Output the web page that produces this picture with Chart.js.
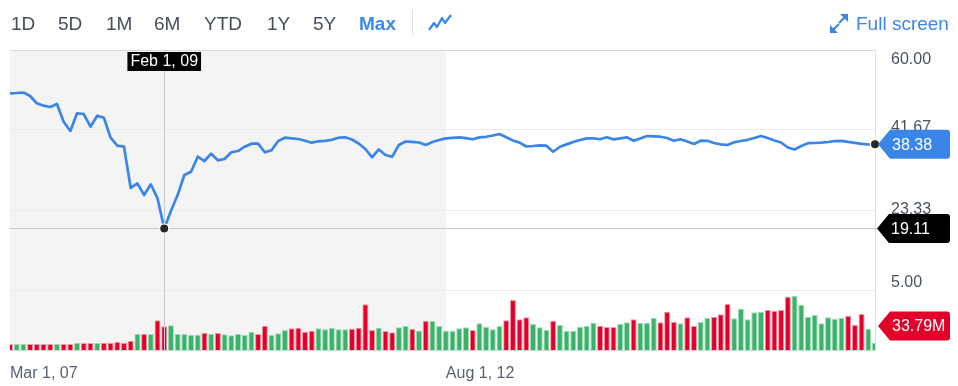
<!DOCTYPE html>
<html>
<head>
<meta charset="utf-8">
<script src="https://cdn.jsdelivr.net/npm/chart.js@4"></script>
<style>
  html, body { margin: 0; padding: 0; background: #fff; }
  body { width: 958px; height: 386px; position: relative; overflow: hidden;
         font-family: "Liberation Sans", Arial, sans-serif; }
  #c { position: absolute; left: 0; top: 0; }
  .btn { position: absolute; top: 13px; font-size: 19px; color: #454e5a; }
  .btn.on { color: #3b88ee; font-weight: bold; }
  .sep { position: absolute; left: 412px; top: 10px; width: 1px; height: 25px; background: #dde0e4; }
  .full { position: absolute; left: 856px; top: 13px; font-size: 19px; color: #3d85e8; }
  svg { position: absolute; }
</style>
</head>
<body>
<canvas id="c" width="958" height="386"></canvas>

<div class="btn" style="left:11px">1D</div>
<div class="btn" style="left:58px">5D</div>
<div class="btn" style="left:106px">1M</div>
<div class="btn" style="left:154px">6M</div>
<div class="btn" style="left:204px">YTD</div>
<div class="btn" style="left:267px">1Y</div>
<div class="btn" style="left:313px">5Y</div>
<div class="btn on" style="left:359px">Max</div>
<div class="sep"></div>
<svg style="left:426px;top:12px" width="28" height="22">
  <polyline points="3,18 8,11 11,15 16,6 19,11 25,3" fill="none" stroke="#3b88ee" stroke-width="2.2" stroke-linejoin="round"/>
</svg>
<svg style="left:828px;top:13px" width="22" height="22">
  <polygon points="12,1 20,1 20,9" fill="#3d85e8"/>
  <line x1="17" y1="4" x2="11" y2="10" stroke="#3d85e8" stroke-width="2.2"/>
  <polygon points="2,12 2,20 10,20" fill="#3d85e8"/>
  <line x1="5" y1="17" x2="11" y2="11" stroke="#3d85e8" stroke-width="2.2"/>
</svg>
<div class="full">Full screen</div>

<script>
// monthly closes, Mar 2007 .. Dec 2017
var price = [
  50.08, 50.15, 50.26, 49.46, 47.79, 47.24, 46.94, 47.63, 43.57, 41.44,
  45.49, 45.33, 42.42, 44.94, 44.49, 39.90, 38.07, 37.84, 28.38, 29.45,
  26.77, 29.22, 26.01, 19.11, 23.10, 26.77, 31.35, 32.11, 35.55, 34.56,
  36.24, 34.72, 35.02, 36.56, 36.85, 37.84, 38.53, 38.53, 36.56, 37.02,
  39.15, 39.90, 39.76, 39.60, 39.21, 38.76, 39.08, 39.19, 39.44, 39.90,
  39.99, 39.49, 38.57, 37.31, 35.41, 37.20, 35.94, 35.55, 38.23, 39.03,
  38.96, 38.80, 38.23, 38.92, 39.38, 39.76, 39.88, 39.99, 39.79, 39.54,
  39.97, 40.11, 40.41, 40.75, 40.02, 39.26, 38.78, 37.89, 38.00, 38.16,
  38.07, 36.69, 37.82, 38.37, 38.92, 39.38, 39.76, 39.76, 39.54, 39.99,
  39.51, 39.76, 39.99, 39.21, 39.72, 40.29, 40.22, 40.13, 39.83, 39.19,
  39.54, 39.03, 38.46, 39.21, 39.19, 38.69, 38.37, 38.23, 38.87, 39.15,
  39.42, 39.83, 40.29, 39.83, 39.26, 38.80, 37.66, 37.20, 38.00, 38.64,
  38.69, 38.78, 38.92, 39.10, 39.19, 38.94, 38.73, 38.50, 38.34, 38.38
];

// monthly volume, millions
var volume = [
  28, 28, 28, 28, 28, 28, 28, 28, 28, 28,
  33, 33, 33, 33, 34, 34, 37, 34, 43, 75,
  75, 75, 139, 111, 115, 75, 75, 71, 71, 81,
  76, 79, 73, 69, 75, 70, 85, 75, 113, 70,
  78, 93, 101, 104, 85, 90, 101, 97, 104, 97,
  97, 99, 104, 213, 93, 104, 89, 83, 106, 112,
  98, 90, 137, 135, 112, 90, 90, 101, 106, 93,
  125, 109, 97, 112, 139, 233, 143, 153, 121, 106,
  93, 137, 117, 89, 90, 109, 113, 127, 113, 107,
  107, 123, 129, 143, 127, 127, 151, 129, 179, 132,
  125, 153, 112, 131, 151, 155, 167, 215, 148, 193,
  143, 176, 179, 187, 183, 187, 249, 253, 211, 155,
  163, 125, 153, 145, 151, 160, 117, 168, 98, 33.79
];

// u = up month (green), d = down month (red)
var volDir = ("duuddddudd" + "uddudddddu" + "dudduuuuud" + "uduuuuuddu" + "uudddduuuu" +
              "uddddudduu" + "duduuuuuud" + "uuuudddduu" + "uduuuuuudd" + "duuduuuddd" +
              "udduuddduu" + "uuudddduuu" + "uuuuuddduu").split('');

var monthNames = ['Jan','Feb','Mar','Apr','May','Jun','Jul','Aug','Sep','Oct','Nov','Dec'];
var months = [];
for (var i = 0; i < price.length; i++) {
  var m = 2 + i;
  months.push(monthNames[m % 12] + ' 1, ' + String((2007 + Math.floor(m / 12)) % 100).padStart(2, '0'));
}

var yTicks = [5, 23.33, 41.67, 60];
var xTickIdx = [0, 65];
var shadeEnd = 65;      // grey band up to Aug 2012
var crossIdx = 23;      // hovered point, Feb 2009
var lastVolLabel = '33.79M';

var BLUE = '#3a86e8', GREEN = '#3bb26a', RED = '#e2002b';
var FONT = '16px "Liberation Sans", Arial, sans-serif';

function tag(ctx, x, yc, text, color) {
  var h = 29, r = 3, right = 950;
  ctx.beginPath();
  ctx.moveTo(x, yc);
  ctx.lineTo(x + 12, yc - h / 2);
  ctx.lineTo(right - r, yc - h / 2);
  ctx.arcTo(right, yc - h / 2, right, yc - h / 2 + r, r);
  ctx.lineTo(right, yc + h / 2 - r);
  ctx.arcTo(right, yc + h / 2, right - r, yc + h / 2, r);
  ctx.lineTo(x + 12, yc + h / 2);
  ctx.closePath();
  ctx.fillStyle = color;
  ctx.fill();
  ctx.fillStyle = '#fff';
  ctx.font = FONT;
  ctx.textAlign = 'left';
  ctx.textBaseline = 'middle';
  ctx.fillText(text, x + 14, yc + 1);
}

var overlay = {
  id: 'overlay',
  beforeDraw: function(chart) {
    var a = chart.chartArea, x = chart.scales.x, ctx = chart.ctx;
    ctx.save();
    ctx.fillStyle = '#f4f4f4';
    ctx.fillRect(a.left, a.top, x.getPixelForValue(shadeEnd) - a.left, a.bottom - a.top);
    ctx.restore();
  },
  afterDraw: function(chart) {
    var a = chart.chartArea, x = chart.scales.x, y = chart.scales.y, ctx = chart.ctx;
    var cx = x.getPixelForValue(crossIdx), cy = y.getPixelForValue(price[crossIdx]);
    var lx = x.getPixelForValue(price.length - 1), ly = y.getPixelForValue(price[price.length - 1]);
    ctx.save();

    // price axis labels: top one sits below its line, the rest on or just above it
    var nudge = [-7, 0, -2, 10];
    ctx.font = FONT;
    ctx.fillStyle = '#4a5260';
    ctx.textAlign = 'left';
    ctx.textBaseline = 'middle';
    y.ticks.forEach(function(t, k) {
      ctx.fillText(t.value.toFixed(2), a.right + 16, y.getPixelForValue(t.value) + nudge[k]);
    });

    ctx.strokeStyle = '#c6cad0';
    ctx.lineWidth = 1;
    ctx.beginPath();
    ctx.moveTo(Math.round(cx) + 0.5, a.top); ctx.lineTo(Math.round(cx) + 0.5, a.bottom);
    ctx.moveTo(a.left, Math.round(cy) + 0.5); ctx.lineTo(a.right + 4, Math.round(cy) + 0.5);
    ctx.stroke();

    [[cx, cy], [lx, ly]].forEach(function(p) {
      ctx.beginPath();
      ctx.arc(p[0], p[1], 4.6, 0, Math.PI * 2);
      ctx.fillStyle = '#272727';
      ctx.fill();
      ctx.lineWidth = 1.2;
      ctx.strokeStyle = '#fff';
      ctx.stroke();
    });

    // date tag on top of the crosshair
    var t = months[crossIdx], w = ctx.measureText(t).width + 6;
    ctx.fillStyle = '#000';
    ctx.fillRect(cx - w / 2, a.top + 2, w, 19);
    ctx.fillStyle = '#fff';
    ctx.textAlign = 'center';
    ctx.fillText(t, cx, a.top + 12);

    tag(ctx, a.right + 3, ly, price[price.length - 1].toFixed(2), BLUE);
    tag(ctx, a.right + 2, cy, price[crossIdx].toFixed(2), '#000');
    tag(ctx, a.right + 3, a.bottom - 24, lastVolLabel, RED);
    ctx.restore();
  }
};

Chart.defaults.font.family = '"Liberation Sans", Arial, sans-serif';

new Chart(document.getElementById('c'), {
  data: {
    datasets: [{
      type: 'line',
      data: price.map(function(v, i) { return { x: i, y: v }; }),
      yAxisID: 'y',
      borderColor: BLUE,
      borderWidth: 2.7,
      pointRadius: 0,
      tension: 0,
      borderJoinStyle: 'round',
      order: 0
    }, {
      type: 'bar',
      data: volume.map(function(v, i) { return { x: i, y: v }; }),
      yAxisID: 'yv',
      backgroundColor: function(c) { return volDir[c.dataIndex] === 'u' ? GREEN : RED; },
      borderColor: function(c) { return volDir[c.dataIndex] === 'u' ? '#9bdcb3' : '#f29aab'; },
      borderWidth: 1,
      borderSkipped: 'start',
      barPercentage: 1,
      categoryPercentage: 0.9,
      order: 1
    }]
  },
  options: {
    responsive: false,
    animation: false,
    devicePixelRatio: 1,
    layout: { padding: { top: 50, left: 10, right: 0, bottom: 0 } },
    plugins: { legend: { display: false }, tooltip: { enabled: false } },
    scales: {
      x: {
        type: 'linear',
        offset: false,
        min: 0,
        max: price.length - 1,
        afterBuildTicks: function(s) { s.ticks = xTickIdx.map(function(v) { return { value: v }; }); },
        afterFit: function(s) { s.height = 36; },
        grid: { display: false, offset: false },
        border: { display: true, color: '#d3d6db' },
        ticks: {
          align: 'start',
          padding: 6,
          maxRotation: 0,
          color: '#5a6270',
          font: { size: 16 },
          callback: function(v) { return months[v]; }
        }
      },
      y: {
        position: 'right',
        min: -8.75,
        max: 60,
        afterBuildTicks: function(s) { s.ticks = yTicks.map(function(v) { return { value: v }; }); },
        afterFit: function(s) { s.width = 83; },
        grid: {
          drawTicks: false,
          color: function(c) { return c.tick && c.tick.value === 60 ? '#d6d8dc' : '#ebebeb'; }
        },
        border: { display: true, color: '#dde0e4' },
        ticks: { display: false }
      },
      yv: {
        display: false,
        min: 0,
        max: 1400
      }
    }
  },
  plugins: [overlay]
});
</script>
</body>
</html>
